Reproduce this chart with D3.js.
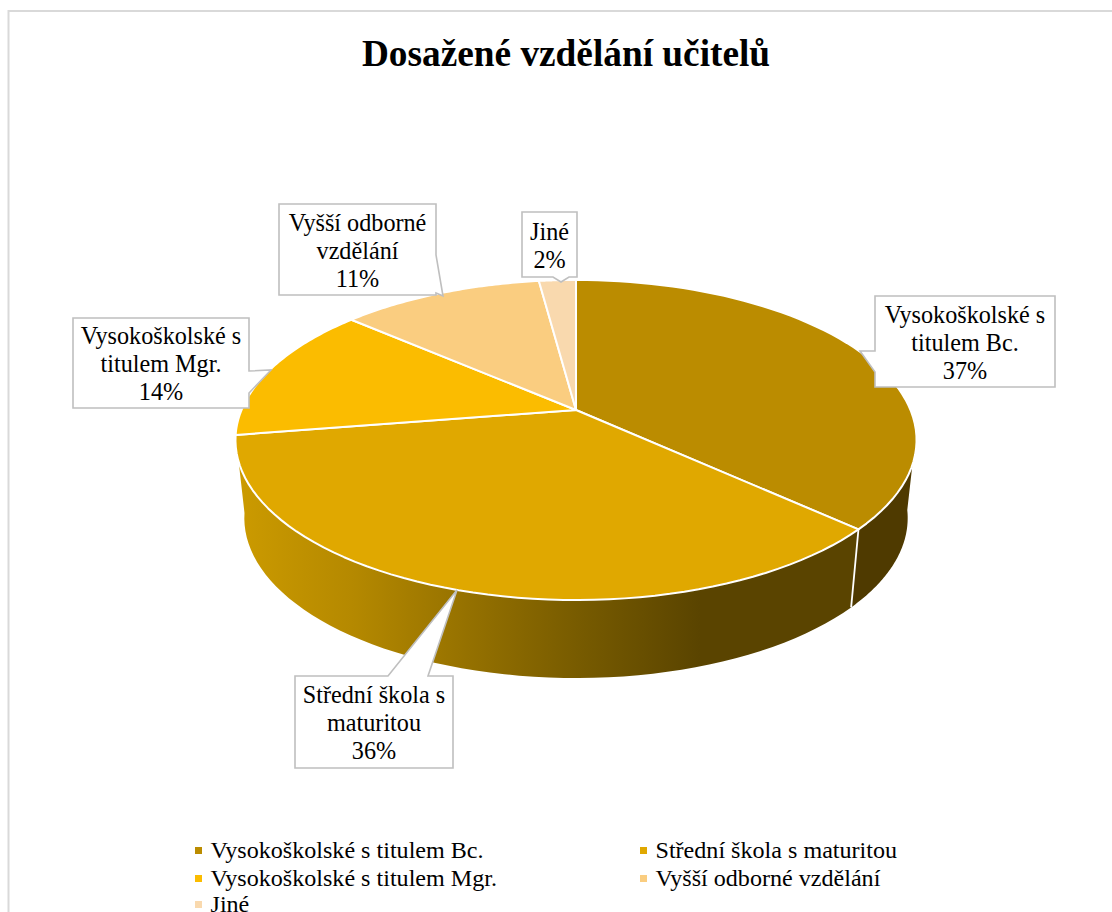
<!DOCTYPE html>
<html><head><meta charset="utf-8">
<style>html,body{margin:0;padding:0;background:#fff;overflow:hidden}svg{display:block}text{font-family:"Liberation Serif",serif;fill:#000}</style>
<script src="https://cdn.jsdelivr.net/npm/d3@7"></script></head>
<body><svg id="c" width="1112" height="912"></svg>
<script>
const categories = ["Vysokoškolské s titulem Bc.","Střední škola s maturitou","Vysokoškolské s titulem Mgr.","Vyšší odborné vzdělání","Jiné"];
const shareValues = [36.8,35.7,13.9,11.5,2.1];
const shownPercent = ["37%","36%","14%","11%","2%"];
const labelLines = [["Vysokoškolské s","titulem Bc."],["Střední škola s","maturitou"],["Vysokoškolské s","titulem Mgr."],["Vyšší odborné","vzdělání"],["Jiné"]];
const colors = ["#BB8C00","#E0A800","#FBBC00","#FACD80","#F9D9AE"];

const W=1112,H=912,svg=d3.select("#c");
const cx=576,cy=410,a=334.5,b=154.4,p=0.1875;
const project=t=>{const X=Math.sin(t),Y=Math.cos(t),d=1+p*Y;return [cx+a*X/d,cy-b*Y/d];};
const lower=([x,y])=>[cx+0.974*(x-cx),488+(y-cy)];
const arcPts=(t0,t1)=>d3.range(0,61).map(i=>project(t0+(t1-t0)*i/60));
const line=d3.line();
const pie=d3.pie().sort(null).value(d=>d)(shareValues);

svg.append("rect").attr("x",8.5).attr("y",11).attr("width",W+20).attr("height",H+20).attr("fill","#fff").attr("stroke","#d9d9d9").attr("stroke-width",2);

svg.append("text").attr("x",566).attr("y",66).attr("text-anchor","middle").attr("font-weight","bold").attr("font-size",37.3).text("Dosažené vzdělání učitelů");

const defs=svg.append("defs");
const grad=defs.append("linearGradient").attr("id","side").attr("gradientUnits","userSpaceOnUse").attr("x1",235).attr("x2",700).attr("y1",0).attr("y2",0);
[[0,"#CC9B00"],[.25,"#B58900"],[.5,"#957100"],[.75,"#765A00"],[1,"#5A4400"]].forEach(([o,c])=>{
  grad.append("stop").attr("offset",o).attr("stop-color",c);
});

const deg=Math.PI/180;
const sidePoly=(t0,t1)=>{const u=arcPts(t0,t1);return line(u.concat(u.slice().reverse().map(lower)))+"Z";};
svg.append("path").attr("d",sidePoly(98*deg,pie[0].endAngle)).attr("fill","#4F3A00");
svg.append("path").attr("d",sidePoly(pie[1].startAngle,pie[1].endAngle)).attr("fill","url(#side)");
const e=project(pie[0].endAngle);
svg.append("path").attr("d",line([e,lower(e)])).attr("stroke","#fff").attr("stroke-width",1.8).attr("fill","none");

svg.selectAll("path.slice").data(pie).enter().append("path").attr("class","slice")
  .attr("d",d=>line([[cx,cy],...arcPts(d.startAngle,d.endAngle)])+"Z")
  .attr("fill",(d,i)=>colors[i]).attr("stroke","#fff").attr("stroke-width",2).attr("stroke-linejoin","round");

const boxes=[
 {r:[875,296,1055,387],side:"l",base:[351,372],tip:[860,351]},
 {r:[295,676,453,768],side:"t",base:[388,428],tip:[457,590]},
 {r:[73,318,249,408],side:"r",base:[371,393],tip:[271,370]},
 {r:[279,204,436,295],side:"r",base:[255,293],tip:[443,296]},
 {r:[522,212,577,277],side:"b",base:[553,569],tip:[561,282]}
];
const callout=o=>{const [x0,y0,x1,y1]=o.r,[b0,b1]=o.base;let pts;
 if(o.side==="l")pts=[[x0,y0],[x1,y0],[x1,y1],[x0,y1],[x0,b1],o.tip,[x0,b0]];
 if(o.side==="r")pts=[[x0,y0],[x1,y0],[x1,b0],o.tip,[x1,b1],[x1,y1],[x0,y1]];
 if(o.side==="t")pts=[[x0,y0],[b0,y0],o.tip,[b1,y0],[x1,y0],[x1,y1],[x0,y1]];
 if(o.side==="b")pts=[[x0,y0],[x1,y0],[x1,y1],[b1,y1],o.tip,[b0,y1],[x0,y1]];
 return line(pts)+"Z";};
boxes.forEach((o,i)=>{
 svg.append("path").attr("d",callout(o)).attr("fill","#fff").attr("stroke","#bfbfbf").attr("stroke-width",1.6);
 const lines=labelLines[i].concat(shownPercent[i]),mx=(o.r[0]+o.r[2])/2,n=lines.length;
 const y0=(o.r[1]+o.r[3])/2-(n-1)*14+9;
 lines.forEach((s,j)=>svg.append("text").attr("x",mx).attr("y",y0+j*28).attr("text-anchor","middle").attr("font-size",24.2).text(s));
});

const legendX=[195,640],legendY=[858,886,912];
categories.forEach((c,i)=>{
 const lx=legendX[i%2],ly=legendY[Math.floor(i/2)];
 svg.append("rect").attr("x",lx).attr("y",ly-11).attr("width",7).attr("height",7).attr("fill",colors[i]);
 svg.append("text").attr("x",lx+15.5).attr("y",ly).attr("font-size",24.1).text(c);
});
</script></body></html>
